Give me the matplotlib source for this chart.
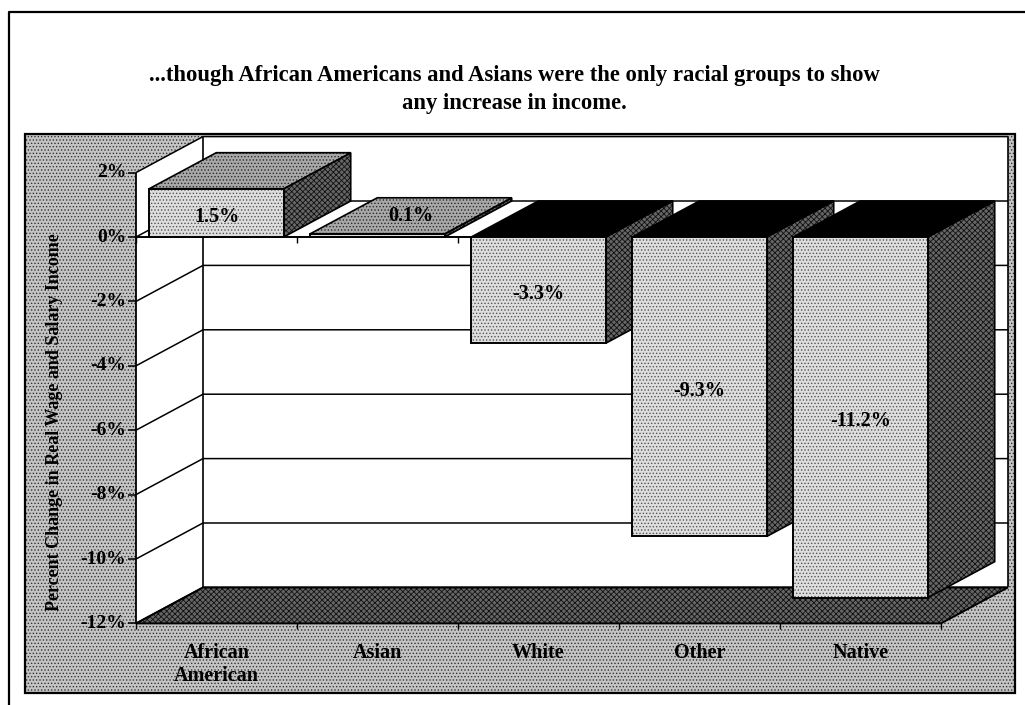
import matplotlib
matplotlib.use("Agg")
import matplotlib.pyplot as plt
from matplotlib.patches import Polygon
from matplotlib.lines import Line2D
from matplotlib.transforms import Affine2D

plt.rcParams["font.family"] = ["Liberation Serif", "DejaVu Serif"]
plt.rcParams["font.weight"] = "bold"
plt.rcParams["hatch.linewidth"] = 0.6

categories = ["African\nAmerican", "Asian", "White", "Other", "Native"]
changes = [1.5, 0.1, -3.3, -9.3, -11.2]
ytick_values = [2, 0, -2, -4, -6, -8, -10, -12]
ytick_labels = ["2%", "0%", "-2%", "-4%", "-6%", "-8%", "-10%", "-12%"]
title_lines = ["...though African Americans and Asians were the only racial groups to show",
               "any increase in income."]
ylabel = "Percent Change in Real Wage and Salary Income"

W, H = 1025, 705
# front plane: pixel position of (category 0, 0%) and size of one category / one percent
ORIGIN_X, ORIGIN_Y = 136, 237
CAT_W, PCT_H = 161, 32.2
# oblique offset from the front plane to the back wall, in data units
DX, DY = 67 / CAT_W, 36 / PCT_H
BAR_W = 0.835

# fill styles: (base colour, hatch, hatch colour)
LIGHT_DOTS = ("#dedede", ".....", "#555555")
BG_DOTS = ("#c4c4c4", ".....", "#333333")
MID_DOTS = ("#a8a8a8", ".....", "#2a2a2a")
DARK_CROSS = ("#666666", "xxxxxx", "#111111")
SOLID_BLACK = ("#000000", None, None)

ymin, ymax = min(ytick_values), max(ytick_values)
ncat = len(categories)

fig = plt.figure(figsize=(W / 100, H / 100), dpi=100)
ax = fig.add_axes([0, 0, 1, 1])
ax.set_xlim(-ORIGIN_X / CAT_W, (W - ORIGIN_X) / CAT_W)
ax.set_ylim((ORIGIN_Y - H) / PCT_H, ORIGIN_Y / PCT_H)
ax.axis("off")

# pixel coordinates (y down) for the frame and titles
px = Affine2D().scale(1 / W, -1 / H).translate(0, 1) + fig.transFigure


def shape(xy, style, edge="black", lw=1.0, z=2, transform=None):
    base, hatch, hcol = style
    kw = {} if transform is None else {"transform": transform}
    ax.add_patch(Polygon(xy, closed=True, facecolor=base, edgecolor="none", lw=0, zorder=z, **kw))
    if hatch:
        ax.add_patch(Polygon(xy, closed=True, facecolor="none", edgecolor=hcol,
                             hatch=hatch, lw=0, zorder=z, **kw))
    if edge:
        ax.add_patch(Polygon(xy, closed=True, facecolor="none", edgecolor=edge,
                             lw=lw, zorder=z, joinstyle="miter", **kw))


def line(xs, ys, lw=1.0, z=3, transform=None):
    kw = {} if transform is None else {"transform": transform}
    ax.add_line(Line2D(xs, ys, color="black", lw=lw, zorder=z, solid_capstyle="butt", **kw))


# outer frame and the dotted plot area
line([9, 9, 1025], [705, 12, 12], lw=1.6, transform=px)
shape([(25, 134), (1015, 134), (1015, 693), (25, 693)], BG_DOTS, lw=1.6, z=1, transform=px)

# walls
shape([(0, ymax), (DX, ymax + DY), (DX, ymin + DY), (0, ymin)], ("white", None, None), edge=None)
shape([(DX, ymax + DY), (ncat + DX, ymax + DY), (ncat + DX, ymin + DY), (DX, ymin + DY)],
      ("white", None, None), edge=None)
line([DX, DX], [ymin + DY, ymax + DY], lw=1.2)
line([ncat + DX, ncat + DX], [ymin + DY, ymax + DY], lw=1.2)

# gridlines on the side and back walls, ticks on the value axis
for t, lab in zip(ytick_values, ytick_labels):
    line([0, DX, ncat + DX], [t, t + DY, t + DY], lw=1.1)
    line([-0.05, 0], [t, t], lw=1.1)
    ax.text(-0.062, t, lab, ha="right", va="center", fontsize=14, zorder=5)
line([0, 0], [ymin, ymax], lw=1.3)

# floor
shape([(0, ymin), (ncat, ymin), (ncat + DX, ymin + DY), (DX, ymin + DY)], DARK_CROSS, lw=1.4)

# category axis at 0% and along the floor edge
line([0, ncat], [0, 0], lw=1.4)
tick_len = 6 / PCT_H
for k in range(ncat + 1):
    line([k, k], [0, -tick_len], lw=1.0)
    line([k, k], [ymin, ymin - tick_len], lw=1.0)

# bars, drawn left to right so each one hides the side of the previous one
for i, v in enumerate(changes):
    x0 = i + (1 - BAR_W) / 2
    x1 = x0 + BAR_W
    lo, hi = min(v, 0), max(v, 0)
    side = [(x1, lo), (x1 + DX, lo + DY), (x1 + DX, hi + DY), (x1, hi)]
    top = [(x0, hi), (x1, hi), (x1 + DX, hi + DY), (x0 + DX, hi + DY)]
    front = [(x0, lo), (x1, lo), (x1, hi), (x0, hi)]
    shape(side, DARK_CROSS, lw=1.2, z=4)
    shape(top, MID_DOTS if v > 0 else SOLID_BLACK, lw=1.2, z=4)
    shape(front, LIGHT_DOTS, lw=1.4, z=4)
    label = f"{v:.1f}%"
    if abs(v) < 0.5:
        # too thin for a front label: write it on the top face
        ax.text(i + 0.5 + DX / 2, hi + DY / 2, label, ha="center", va="center",
                fontsize=14.5, zorder=6)
    else:
        ax.text(i + 0.5, v / 2 - 0.12, label, ha="center", va="center", fontsize=14.5, zorder=6)

# category labels under the floor
for i, name in enumerate(categories):
    ax.text(i + 0.5, ymin - 0.62, name, ha="center", va="top", fontsize=14.5,
            linespacing=1.2, zorder=5)

ax.text(55, 422, ylabel, transform=px, rotation=90, ha="center", va="center",
        fontsize=13, zorder=5)
ax.text(514, 75, title_lines[0], transform=px, ha="center", va="center", fontsize=16.3)
ax.text(514, 103, title_lines[1], transform=px, ha="center", va="center", fontsize=16.3)

fig.savefig("out.png", dpi=100)
